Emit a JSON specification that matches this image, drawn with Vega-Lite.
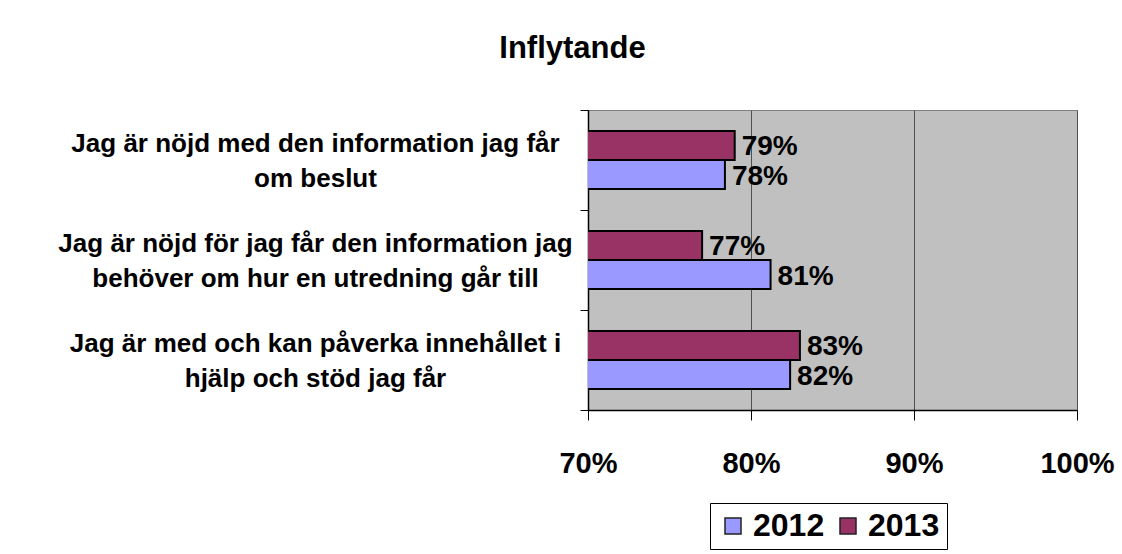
{
  "$schema": "https://vega.github.io/schema/vega-lite/v6.json",
  "width": 489,
  "height": 300,
  "autosize": "none",
  "padding": {"left": 588, "top": 110, "right": 45, "bottom": 144},
  "background": "white",
  "title": {
    "text": "Inflytande",
    "font": "Liberation Sans",
    "fontSize": 31,
    "fontWeight": "bold",
    "color": "black",
    "anchor": "middle",
    "frame": "group",
    "baseline": "alphabetic",
    "dx": -260,
    "offset": 8
  },
  "data": {
    "values": [
      {"fraga": "Jag är nöjd med den information jag får om beslut", "ar": "2013", "andel": 0.79},
      {"fraga": "Jag är nöjd med den information jag får om beslut", "ar": "2012", "andel": 0.784},
      {"fraga": "Jag är nöjd för jag får den information jag behöver om hur en utredning går till", "ar": "2013", "andel": 0.77},
      {"fraga": "Jag är nöjd för jag får den information jag behöver om hur en utredning går till", "ar": "2012", "andel": 0.812},
      {"fraga": "Jag är med och kan påverka innehållet i hjälp och stöd jag får", "ar": "2013", "andel": 0.83},
      {"fraga": "Jag är med och kan påverka innehållet i hjälp och stöd jag får", "ar": "2012", "andel": 0.824}
    ]
  },
  "encoding": {
    "y": {
      "field": "fraga",
      "type": "nominal",
      "sort": null,
      "title": null,
      "scale": {"paddingInner": 0, "paddingOuter": 0},
      "axis": {
        "domainColor": "black",
        "domainWidth": 1.5,
        "tickBand": "extent",
        "tickColor": "black",
        "tickSize": 8,
        "labelFont": "Liberation Sans",
        "labelFontSize": 26,
        "labelFontWeight": "bold",
        "labelColor": "black",
        "labelLimit": 700,
        "labelAlign": "center",
        "labelBaseline": "middle",
        "labelLineHeight": 35,
        "labelOffset": -17,
        "labelPadding": 265,
        "labelExpr": "split(replace(replace(replace(datum.label, 'får om beslut', 'får\\nom beslut'), 'jag behöver', 'jag\\nbehöver'), 'innehållet i hjälp', 'innehållet i\\nhjälp'), '\\n')"
      }
    },
    "x": {
      "field": "andel",
      "type": "quantitative",
      "title": null,
      "scale": {"domain": [0.7, 1.0], "nice": false, "zero": false},
      "axis": {
        "values": [0.7, 0.8, 0.9, 1.0],
        "format": ".0%",
        "grid": true,
        "gridColor": "#505050",
        "gridWidth": 1,
        "domainColor": "black",
        "domainWidth": 1.5,
        "tickColor": "black",
        "tickSize": 10,
        "labelFont": "Liberation Sans",
        "labelFontSize": 29,
        "labelFontWeight": "bold",
        "labelColor": "black",
        "labelPadding": 29,
        "labelFlush": false,
        "labelOverlap": false
      }
    },
    "yOffset": {
      "field": "ar",
      "type": "nominal",
      "scale": {"domain": ["2013", "2012"], "paddingOuter": 0.72, "paddingInner": 0}
    }
  },
  "layer": [
    {
      "mark": {"type": "bar", "stroke": "black", "strokeWidth": 2, "clip": true},
      "encoding": {
        "color": {
          "field": "ar",
          "type": "nominal",
          "scale": {"domain": ["2012", "2013"], "range": ["#9999FF", "#993366"]},
          "legend": {
            "title": null,
            "orient": "none",
            "legendX": 122,
            "legendY": 393,
            "direction": "horizontal",
            "strokeColor": "black",
            "fillColor": "white",
            "padding": 7,
            "symbolType": "square",
            "symbolSize": 256,
            "symbolStrokeColor": "#222222",
            "symbolStrokeWidth": 1.5,
            "symbolOpacity": 1,
            "labelFont": "Liberation Sans",
            "labelFontSize": 32,
            "labelFontWeight": "bold",
            "labelColor": "black",
            "labelOffset": 4,
            "columnPadding": 7
          }
        }
      }
    },
    {
      "mark": {
        "type": "text",
        "align": "left",
        "baseline": "middle",
        "dx": 7,
        "dy": 2,
        "font": "Liberation Sans",
        "fontSize": 28,
        "fontWeight": "bold",
        "color": "black"
      },
      "encoding": {
        "text": {"field": "andel", "type": "quantitative", "format": ".0%"}
      }
    }
  ],
  "config": {
    "font": "Liberation Sans",
    "view": {"fill": "#C0C0C0", "stroke": "#808080", "strokeWidth": 1}
  }
}
